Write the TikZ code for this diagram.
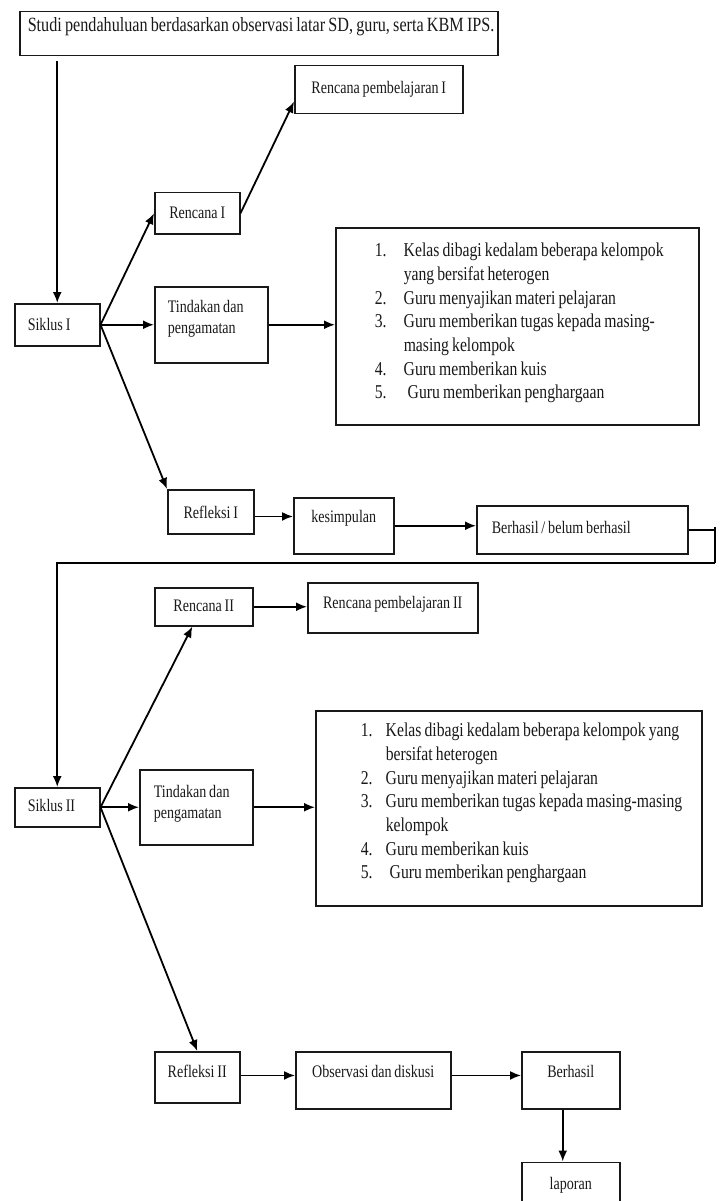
\documentclass[tikz,border=0pt]{standalone}
\usepackage{fontspec}
\setmainfont{Liberation Serif}[FakeStretch=0.8,WordSpace=0.8]
\usetikzlibrary{arrows.meta,positioning,calc}
\newcommand{\lbl}{\fontsize{17.6pt}{21pt}\selectfont}
\newcommand{\lst}{\fontsize{19.6pt}{23.7pt}\selectfont}
\newcommand{\ttl}{\fontsize{20.2pt}{24pt}\selectfont}

\begin{document}
\begin{tikzpicture}[x=1pt,y=-1pt,
	box/.style={draw=black!90,line width=1.5pt,inner sep=0pt,anchor=north west,font=\lbl,text=black!90,
		execute at begin node={\spaceskip=0pt\xspaceskip=0pt}},
	arr/.style={line width=1.8pt,-{Latex[length=11pt,width=9pt]}},
	ln/.style={line width=1.8pt}]
	\useasboundingbox (0,0) rectangle (723,1201);
	\clip (0,0) rectangle (723,1201);

	\node[box,font=\ttl,text width=462pt,inner xsep=8pt,align=left,text height=20pt,text depth=24pt] (st) at (19,11) {\mbox{Studi pendahuluan berdasarkan observasi latar SD, guru, serta KBM IPS.}};
	\node[box,minimum width=168pt,text height=28pt,text depth=20pt] (rp1) at (294,65) {Rencana pembelajaran I};
	\node[box,minimum width=85pt,text height=26pt,text depth=15pt] (r1) at (154,192) {Rencana I};
	\node[box,text width=59pt,inner xsep=13pt,align=left,text height=27pt,text depth=15pt] (s1) at (14,303) {Siklus I};
	\node[box,text width=87pt,inner xsep=13pt,align=left,text height=26pt,text depth=50pt] (t1) at (154,286) {Tindakan dan\\pengamatan};
	\node[box,font=\lst,text width=363pt,inner xsep=0pt,align=left,text height=29pt,text depth=168pt] (l1) at (335,227) {%
		\begin{tabular}[t]{@{\hspace{39pt}}p{29pt}@{}l@{}}
		1. & Kelas dibagi kedalam beberapa kelompok\\
		   & yang bersifat heterogen\\
		2. & Guru menyajikan materi pelajaran\\
		3. & Guru memberikan tugas kepada masing-\\
		   & masing kelompok\\
		4. & Guru memberikan kuis\\
		5. & \hspace{4pt}Guru memberikan penghargaan
		\end{tabular}};
	\node[box,minimum width=86pt,text height=29pt,text depth=15pt] (rf1) at (167,489) {Refleksi I};
	\node[box,minimum width=100pt,text height=25pt,text depth=31pt] (ks) at (293,497) {kesimpulan};
	\node[box,text width=181pt,inner xsep=15pt,align=left,text height=28pt,text depth=20pt] (bb) at (476,505) {Berhasil / belum berhasil};
	\coordinate (k1) at (715,527);
	\coordinate (k2) at (715,563);

	\node[box,minimum width=98pt,text height=24pt,text depth=14pt] (r2) at (154,587) {Rencana II};
	\node[box,minimum width=170pt,text height=26pt,text depth=24pt] (rp2) at (307,582) {Rencana pembelajaran II};
	\node[box,text width=59pt,inner xsep=13pt,align=left,text height=24pt,text depth=15pt] (s2) at (14,787) {Siklus II};
	\node[box,text width=85pt,inner xsep=14pt,align=left,text height=28pt,text depth=47pt] (t2) at (139,769) {Tindakan dan\\pengamatan};
	\node[box,font=\lst,text width=386pt,inner xsep=0pt,align=left,text height=26pt,text depth=169pt] (l2) at (315,710) {%
		\begin{tabular}[t]{@{\hspace{45pt}}p{25pt}@{}l@{}}
		1. & Kelas dibagi kedalam beberapa kelompok yang\\
		   & bersifat heterogen\\
		2. & Guru menyajikan materi pelajaran\\
		3. & Guru memberikan tugas kepada masing-masing\\
		   & kelompok\\
		4. & Guru memberikan kuis\\
		5. & \hspace{4pt}Guru memberikan penghargaan
		\end{tabular}};
	\node[box,minimum width=85pt,text height=26pt,text depth=25pt] (rf2) at (154,1051) {Refleksi II};
	\node[box,minimum width=155pt,text height=26pt,text depth=31pt] (ob) at (295,1051) {Observasi dan diskusi};
	\node[box,minimum width=98pt,text height=26pt,text depth=31pt] (bh) at (521,1051) {Berhasil};
	\node[box,minimum width=98pt,text height=27pt,text depth=40pt,below=52pt of bh] (lp) {laporan};

	\draw[arr,shorten <=5pt] (st.south -| s1.north) -- (s1.north);
	\draw[arr] (s1.east) -- (r1.west);
	\draw[arr] (r1.east) -- (rp1.-172);
	\draw[arr] (s1.east) -- (t1.west);
	\draw[arr] (t1.east) -- (t1.east -| l1.west);
	\draw[arr] (s1.east) -- (rf1.north west);
	\draw[arr] (rf1.mid east) -- (rf1.mid east -| ks.west);
	\draw[arr] (ks.east) -- (ks.east -| bb.west);
	\draw[ln] (bb.east) -- (bb.east -| k1);
	\draw[ln] (k1) -- (k2);
	\draw[arr] (k2) -- (k2 -| s2.north) -- (s2.north);

	\draw[arr] (s2.east) -- (r2.240);
	\draw[arr] (r2.east) -- (r2.east -| rp2.west);
	\draw[arr] (s2.east) -- (t2.west);
	\draw[arr] (t2.east) -- (t2.east -| l2.west);
	\draw[arr] (s2.east) -- (rf2.north);
	\draw[arr] (rf2.mid east) -- (rf2.mid east -| ob.west);
	\draw[arr] (ob.mid east) -- (ob.mid east -| bh.west);
	\draw[arr] ($(bh.south)+(-8,0)$) -- ($(lp.north)+(-8,0)$);
\end{tikzpicture}
\end{document}
